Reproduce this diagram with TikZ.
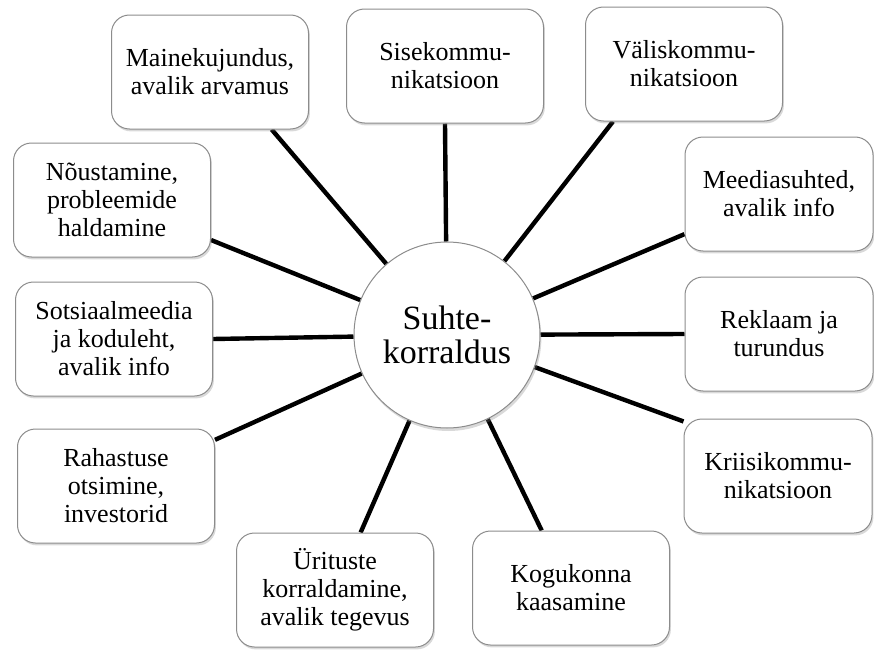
\documentclass[tikz,border=0pt]{standalone}
\usepackage{fontspec}
\setmainfont{Liberation Serif}
\usepackage{tikz}
\usetikzlibrary{shadows,backgrounds}
\definecolor{boxline}{RGB}{140,140,140}

\begin{document}
\begin{tikzpicture}[
  x=0.5pt,y=-0.5pt,
  area/.style={draw=boxline,line width=0.5pt,rounded corners=9pt,fill=white,
               align=center,minimum width=98.5pt,minimum height=57pt,inner sep=2pt,
               font=\fontsize{13}{14}\selectfont,
               drop shadow={shadow xshift=0.7pt,shadow yshift=-1.2pt,opacity=0.3}},
  narrow/.style={area,minimum width=94pt},
  hubnode/.style={circle,draw=boxline,line width=0.5pt,fill=white,minimum size=93pt,
                  align=center,inner sep=0pt,font=\fontsize{17}{17}\selectfont,
                  drop shadow={shadow xshift=0.7pt,shadow yshift=-1.5pt,opacity=0.3}},
  spoke/.style={line width=2.2pt,black},
]
\useasboundingbox (0,0) rectangle (874,653);
% Hub
\node[hubnode] (hub) at (447,335) {Suhte-\\korraldus};
% Outer boxes
\node[area] (maine) at (210,72) {Mainekujundus,\\avalik arvamus};
\node[area] (sise) at (445,66) {Sisekommu-\\nikatsioon};
\node[area] (vali) at (684,64) {Väliskommu-\\nikatsioon};
\node[narrow] (meedia) at (779,194) {Meediasuhted,\\avalik info};
\node[narrow] (reklaam) at (779,334) {Reklaam ja\\turundus};
\node[narrow] (kriis) at (778,476) {Kriisikommu-\\nikatsioon};
\node[area] (kogu) at (571,588) {Kogukonna\\kaasamine};
\node[area] (urit) at (335,590) {Ürituste\\korraldamine,\\avalik tegevus};
\node[area] (rahastus) at (116,486) {Rahastuse\\otsimine,\\investorid};
\node[area] (sots) at (114,339) {Sotsiaalmeedia\\ja koduleht,\\avalik info};
\node[area] (noust) at (112,200) {Nõustamine,\\probleemide\\haldamine};
% spokes
\begin{scope}[on background layer]
\draw[spoke] (hub) -- (maine.-43);
\draw[spoke] (hub) -- (sise.south);
\draw[spoke] (hub) -- (vali.-141);
\draw[spoke] (hub) -- (meedia.-157);
\draw[spoke] (hub) -- (reklaam.west);
\draw[spoke] (hub) -- (kriis.150);
\draw[spoke] (hub) -- (kogu.117);
\draw[spoke] (hub) -- (urit.66);
\draw[spoke] (hub) -- (rahastus.25);
\draw[spoke] (hub) -- (sots.0);
\draw[spoke] (hub) -- (noust.-22);
\end{scope}
\end{tikzpicture}
\end{document}
